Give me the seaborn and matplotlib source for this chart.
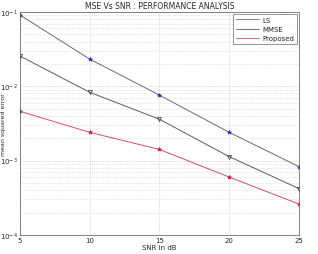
import matplotlib
matplotlib.use("Agg")
import matplotlib.pyplot as plt
import numpy as np
import pandas as pd
import seaborn as sns

snr_db = [5, 10, 15, 20, 25]
mse_ls = [0.091, 0.0232, 0.0076, 0.0024, 0.00083]
mse_mmse = [0.0255, 0.0083, 0.0036, 0.00113, 0.00042]
mse_proposed = [0.0046, 0.0024, 0.00141, 0.0006, 0.00026]

series_names = ["LS", "MMSE", "Proposed"]
line_colors = ["#6a6a7a", "#5a5a6e", "#d0506a"]
marker_colors = ["#3030c0", "#333333", "#d02040"]
markers = ["*", "v", "*"]

df = pd.DataFrame({
    "snr": snr_db * 3,
    "mse": mse_ls + mse_mmse + mse_proposed,
    "method": sum([[n] * len(snr_db) for n in series_names], []),
})

sns.set_theme(style="white")
plt.rcParams["font.family"] = ["DejaVu Sans"]

fig = plt.figure(figsize=(3.18, 2.55), dpi=100)
ax = fig.add_axes([0.063, 0.075, 0.877, 0.874])

sns.lineplot(data=df, x="snr", y="mse", hue="method", palette=line_colors,
             hue_order=series_names, linewidth=0.7, ax=ax, legend=True)

for name, mk, mc in zip(series_names, markers, marker_colors):
    sub = df[df["method"] == name]
    ax.plot(sub["snr"], sub["mse"], linestyle="none", marker=mk,
            markersize=3, markerfacecolor="none" if mk == "v" else mc,
            markeredgecolor=mc, markeredgewidth=0.5)

ax.set_yscale("log")
ax.set_ylim(1e-4, 1e-1)
ax.set_xlim(5, 25)
ax.set_xticks(snr_db)
ax.grid(True, which="major", linestyle=":", color="#bbbbbb", linewidth=0.5)
ax.grid(True, which="minor", axis="y", linestyle=":", color="#cccccc", linewidth=0.5)
ax.tick_params(axis="both", which="major", labelsize=5, length=2, width=0.4, pad=1.5, direction="in")
ax.tick_params(axis="y", which="minor", length=1, width=0.3, direction="in")
for s in ax.spines.values():
    s.set_linewidth(0.5)
    s.set_color("#555555")

ax.set_xlabel("SNR in dB", fontsize=5, labelpad=1)
ax.set_ylabel("mean squared error", fontsize=4.5)
ax.yaxis.set_label_coords(-0.05, 0.5)
ax.set_title("MSE Vs SNR : PERFORMANCE ANALYSIS", fontsize=5.5, pad=3)

leg = ax.legend(loc="upper right", fontsize=5, frameon=True, fancybox=False,
                edgecolor="#444444", borderpad=0.4, handlelength=3.4,
                labelspacing=0.45, handletextpad=0.4, borderaxespad=0.3)
leg.get_frame().set_linewidth(0.5)
for lh in leg.get_lines():
    lh.set_linewidth(0.6)

fig.savefig("out.png", dpi=100)
